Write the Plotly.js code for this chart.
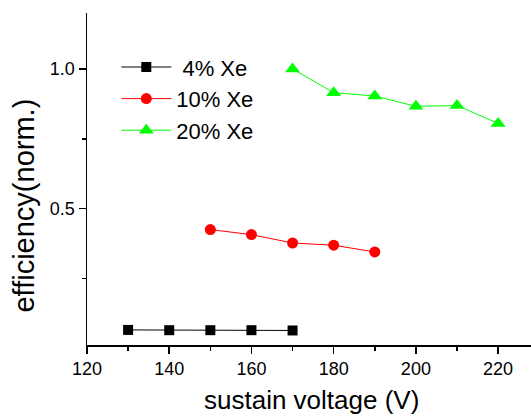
<!DOCTYPE html>
<html>
<head>
<meta charset="utf-8">
<script src="https://cdn.plot.ly/plotly-3.0.1.min.js"></script>
<style>html,body{margin:0;padding:0;background:#fff;}#chart{width:531px;height:416px;}</style>
</head>
<body>
<div id="chart"></div>
<script>
const names = ["\u00a04% Xe", "10% Xe", "20% Xe"];
const x4 = [130, 140, 150, 160, 170];
const y4 = [0.066, 0.065, 0.065, 0.065, 0.064];
const x10 = [150, 160, 170, 180, 190];
const y10 = [0.425, 0.407, 0.377, 0.369, 0.345];
const x20 = [170, 180, 190, 200, 210, 220];
const y20 = [1.0, 0.915, 0.903, 0.866, 0.869, 0.805];
const xTicks = [120, 140, 160, 180, 200, 220];
const yTicks = [0.5, 1.0];
const xTitle = "sustain voltage (V)";
const yTitle = "efficiency(norm.)";

const font = "Liberation Sans, Arial, sans-serif";
const traces = [
  {x: x4, y: y4, name: names[0], mode: "lines+markers",
   line: {color: "#000000", width: 1}, marker: {symbol: "square", size: 10, color: "#000000"}},
  {x: x10, y: y10, name: names[1], mode: "lines+markers",
   line: {color: "#ff0000", width: 1}, marker: {symbol: "circle", size: 11, color: "#ff0000"}},
  {x: x20, y: y20, name: names[2], mode: "lines+markers",
   line: {color: "#00ff00", width: 1}, marker: {symbol: "triangle-up", size: 13, color: "#00ff00"}}
];
const layout = {
  width: 531, height: 416,
  margin: {l: 87, r: 0, t: 13, b: 71},
  paper_bgcolor: "#fff", plot_bgcolor: "#fff",
  font: {family: font, color: "#000"},
  showlegend: true,
  legend: {x: 0.066, y: 0.9, xanchor: "left", yanchor: "top", bgcolor: "rgba(0,0,0,0)",
           font: {family: font, size: 22, color: "#000"}, itemwidth: 50, tracegroupgap: 0},
  xaxis: {range: [120, 228], tickvals: xTicks, ticktext: xTicks.map(String),
          ticks: "outside", ticklen: 7, tickwidth: 1.5, tickcolor: "#000",
          minor: {dtick: 10, tick0: 120, ticks: "outside", ticklen: 4, tickwidth: 1.5, tickcolor: "#000", showgrid: false},
          showline: true, linecolor: "#000", linewidth: 1.5, showgrid: false, zeroline: false,
          tickfont: {size: 18, family: font}},
  yaxis: {range: [0.012, 1.2], tickvals: yTicks, ticktext: yTicks.map(v => v.toFixed(1)),
          ticks: "outside", ticklen: 7, tickwidth: 1.5, tickcolor: "#000",
          minor: {tickvals: [0.25, 0.75], ticks: "outside", ticklen: 4, tickwidth: 1.5, tickcolor: "#000", showgrid: false},
          showline: true, linecolor: "#000", linewidth: 1.5, showgrid: false, zeroline: false,
          tickfont: {size: 18, family: font}},
  annotations: [
    {text: xTitle, xref: "paper", yref: "paper", x: 0.505, y: -0.113, xanchor: "center", yanchor: "top",
     showarrow: false, font: {size: 26, family: font, color: "#000"}},
    {text: yTitle, xref: "paper", yref: "paper", x: -0.142, y: 0.42, xanchor: "center", yanchor: "middle",
     textangle: -90, showarrow: false, font: {size: 29, family: font, color: "#000"}}
  ]
};
Plotly.newPlot("chart", traces, layout, {displayModeBar: false, staticPlot: true});
</script>
</body>
</html>
